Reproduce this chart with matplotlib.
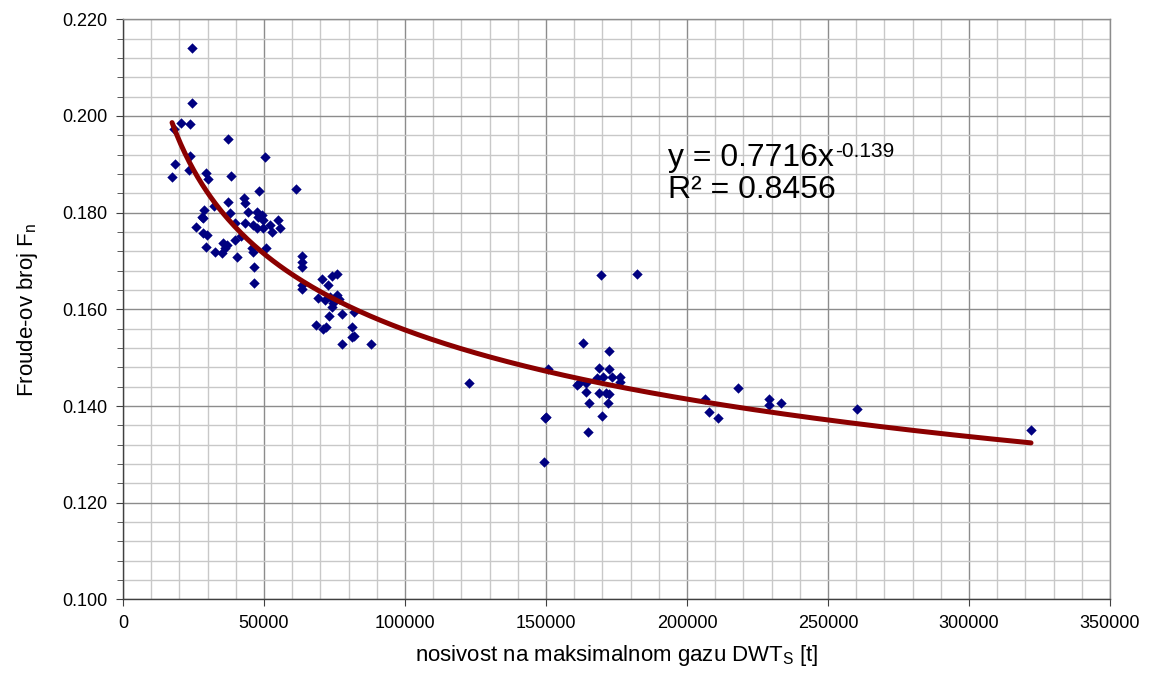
import numpy as np
import matplotlib
matplotlib.use("Agg")
import matplotlib.pyplot as plt
from matplotlib.ticker import MultipleLocator, FormatStrFormatter

plt.rcParams['font.family'] = ['Liberation Sans', 'DejaVu Sans']

# DWT_S [t]
dwt = [24470, 24470, 20570, 23760, 18080, 37230, 23760, 50350, 18440, 23400,
       17380, 29430, 30140, 38300, 48230, 61350, 42910, 43260, 37230, 32270,
       28720, 28010, 28370, 25890, 37940, 44330, 43260, 47520, 47870, 49290,
       49640, 46100, 47520, 49640, 52130, 52840, 54960, 55670, 28370, 29790,
       41840, 29430, 32620, 35110, 35460, 36170, 36880, 39720, 40420, 45740,
       46100, 50710, 46450, 46450, 63470, 63470, 63470, 63470, 63470, 70570,
       72690, 74110, 75880, 69150, 71630, 73400, 74470, 74110, 75880, 76590,
       73050, 77660, 81910, 68440, 70920, 71980, 81200, 81200, 81910, 77660,
       87940, 39720,
       122690, 150700, 149640, 150000, 149290, 163120, 169500, 182260, 172340,
       168790, 172340, 168080, 170210, 173400, 176240, 176240, 160990, 161700,
       164180, 164180, 168790, 171270, 172340, 165240, 171980, 169850, 164890,
       206380, 207800, 210990, 218080, 229070, 229070, 233330, 260280, 321980]

# Froude number Fn
fn = [0.2027, 0.2140, 0.1985, 0.1983, 0.1973, 0.1952, 0.1917, 0.1915, 0.1901, 0.1888,
      0.1874, 0.1882, 0.1870, 0.1876, 0.1845, 0.1849, 0.1830, 0.1820, 0.1822, 0.1814,
      0.1805, 0.1791, 0.1789, 0.1770, 0.1799, 0.1801, 0.1779, 0.1801, 0.1791, 0.1795,
      0.1785, 0.1774, 0.1768, 0.1768, 0.1774, 0.1760, 0.1785, 0.1768, 0.1758, 0.1754,
      0.1752, 0.1729, 0.1719, 0.1717, 0.1737, 0.1727, 0.1733, 0.1743, 0.1708, 0.1727,
      0.1719, 0.1727, 0.1688, 0.1655, 0.1710, 0.1698, 0.1688, 0.1651, 0.1642, 0.1663,
      0.1651, 0.1669, 0.1673, 0.1623, 0.1619, 0.1626, 0.1613, 0.1605, 0.1630, 0.1621,
      0.1586, 0.1590, 0.1595, 0.1568, 0.1559, 0.1563, 0.1563, 0.1543, 0.1545, 0.1528,
      0.1528, 0.1779,
      0.1448, 0.1477, 0.1375, 0.1377, 0.1284, 0.1530, 0.1671, 0.1673, 0.1514,
      0.1479, 0.1477, 0.1458, 0.1460, 0.1460, 0.1460, 0.1450, 0.1444, 0.1448,
      0.1448, 0.1429, 0.1427, 0.1427, 0.1425, 0.1406, 0.1406, 0.1379, 0.1347,
      0.1415, 0.1388, 0.1375, 0.1437, 0.1415, 0.1402, 0.1406, 0.1393, 0.1350]

# Power trend line y = a * x^b
coef_a = 0.7716
coef_b = -0.139
r2 = 0.8456

fig = plt.figure(figsize=(11.51, 6.87), dpi=100)
ax = fig.add_axes([0.1069, 0.1275, 0.8575, 0.8445])

xfit = np.linspace(min(dwt), max(dwt), 400)
yfit = coef_a * xfit ** coef_b

ax.scatter(dwt, fn, marker='D', s=28, color='#000080', linewidths=0, zorder=3)
ax.plot(xfit, yfit, color='#8B0000', lw=3.6, zorder=4, solid_capstyle='round')

ax.set_xlim(0, 350000)
ax.set_ylim(0.100, 0.220)
ax.xaxis.set_major_locator(MultipleLocator(50000))
ax.xaxis.set_minor_locator(MultipleLocator(10000))
ax.yaxis.set_major_locator(MultipleLocator(0.02))
ax.yaxis.set_minor_locator(MultipleLocator(0.004))
ax.yaxis.set_major_formatter(FormatStrFormatter('%.3f'))

ax.grid(which='minor', color='#c8c8c8', lw=1.0, zorder=0)
ax.grid(which='major', color='#8c8c8c', lw=1.0, zorder=0)
ax.set_axisbelow(True)

for s in ['top', 'right']:
    ax.spines[s].set_color('#8c8c8c')
    ax.spines[s].set_linewidth(1.0)
for s in ['left', 'bottom']:
    ax.spines[s].set_color('#404040')
    ax.spines[s].set_linewidth(1.0)

ax.tick_params(axis='both', which='major', labelsize=13, length=5, color='#404040',
               direction='out', pad=6)
ax.tick_params(axis='y', which='minor', length=4, color='#404040', direction='out')
ax.tick_params(axis='x', which='minor', length=0)

ax.set_xlabel(r'nosivost na maksimalnom gazu DWT$_{\mathregular{S}}$ [t]', fontsize=16, labelpad=8)
ax.set_ylabel(r'Froude-ov broj F$_{\mathregular{n}}$', fontsize=16, labelpad=16)

t1 = ax.text(193300, 0.1913, 'y = %.4fx' % coef_a, fontsize=23, ha='left', va='center')
ax.annotate('%.3f' % coef_b, xy=(1.0, 1.0), xycoords=t1, xytext=(1, 1),
            textcoords='offset points', fontsize=15, ha='left', va='top')
ax.text(193300, 0.1847, 'R² = %.4f' % r2, fontsize=23, ha='left', va='center')

fig.savefig('out.png', dpi=100)
